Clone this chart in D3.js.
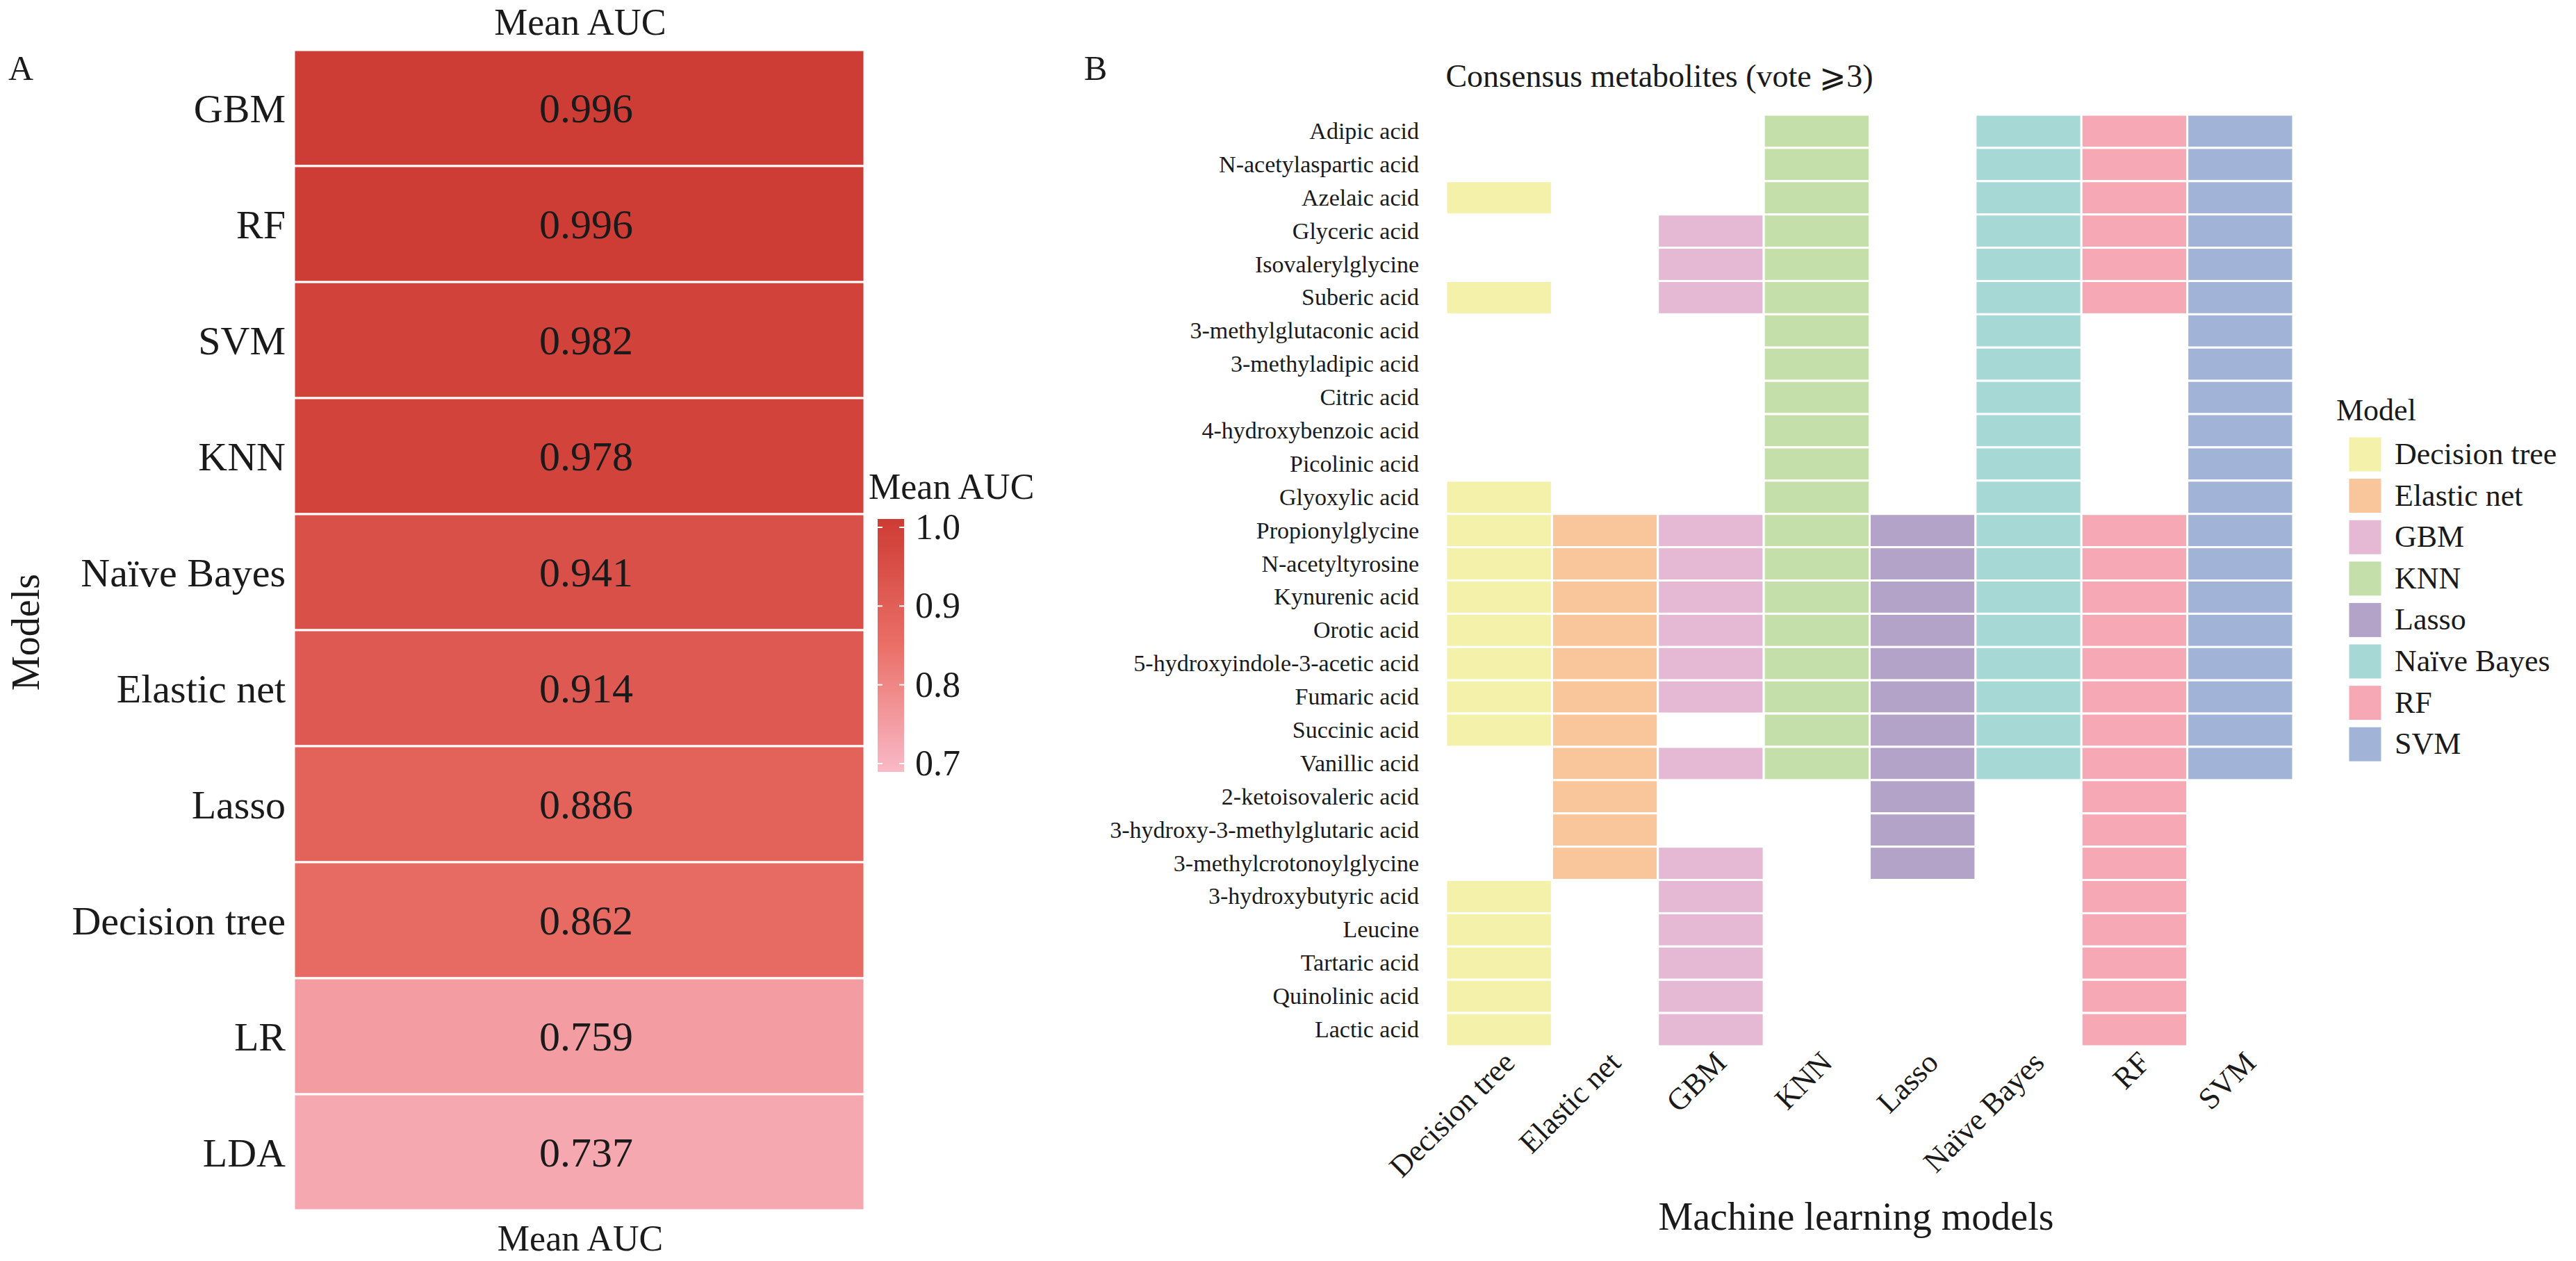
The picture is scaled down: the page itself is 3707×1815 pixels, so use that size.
<!DOCTYPE html>
<html><head><meta charset="utf-8">
<script src="https://cdn.jsdelivr.net/npm/d3@7"></script>
<style>body{margin:0;background:#fff}text{font-family:"Liberation Serif","DejaVu Serif",serif;fill:#1a1a1a}</style>
</head><body>
<script>
var models = ["GBM","RF","SVM","KNN","Naïve Bayes","Elastic net","Lasso","Decision tree","LR","LDA"];
var aucs = [0.996,0.996,0.982,0.978,0.941,0.914,0.886,0.862,0.759,0.737];
var aucTicks = [0.7,0.8,0.9,1.0];

var cols = ["Decision tree","Elastic net","GBM","KNN","Lasso","Naïve Bayes","RF","SVM"];
var colColors = ["#f4f2aa","#f9c59a","#e5b9d4","#c5dfaa","#b3a3c9","#a6d8d6","#f7a8b5","#a1b3d7"];
var metabolites = ["Adipic acid","N-acetylaspartic acid","Azelaic acid","Glyceric acid","Isovalerylglycine","Suberic acid","3-methylglutaconic acid","3-methyladipic acid","Citric acid","4-hydroxybenzoic acid","Picolinic acid","Glyoxylic acid","Propionylglycine","N-acetyltyrosine","Kynurenic acid","Orotic acid","5-hydroxyindole-3-acetic acid","Fumaric acid","Succinic acid","Vanillic acid","2-ketoisovaleric acid","3-hydroxy-3-methylglutaric acid","3-methylcrotonoylglycine","3-hydroxybutyric acid","Leucine","Tartaric acid","Quinolinic acid","Lactic acid"];
// selected models per metabolite (indices into cols)
var votes = [
 [3,5,6,7],[3,5,6,7],[0,3,5,6,7],[2,3,5,6,7],[2,3,5,6,7],[0,2,3,5,6,7],
 [3,5,7],[3,5,7],[3,5,7],[3,5,7],[3,5,7],[0,3,5,7],
 [0,1,2,3,4,5,6,7],[0,1,2,3,4,5,6,7],[0,1,2,3,4,5,6,7],[0,1,2,3,4,5,6,7],[0,1,2,3,4,5,6,7],[0,1,2,3,4,5,6,7],
 [0,1,3,4,5,6,7],[1,2,3,4,5,6,7],[1,4,6],[1,4,6],[1,2,4,6],
 [0,2,6],[0,2,6],[0,2,6],[0,2,6],[0,2,6]];

var W = 3707, H = 1815;
var svg = d3.select("body").append("svg").attr("width",W).attr("height",H);

// ---- panel A
var col = d3.scaleLinear().domain([0.7,0.85,1.0]).range(["#f9bac7","#ea6f67","#cd3c34"]).clamp(true);
var yA = d3.scaleBand().domain(models).range([72,1742]);
var xA0 = 423, xA1 = 1244;
var gA = svg.append("g");
gA.selectAll("rect").data(models).enter().append("rect")
	.attr("x",xA0).attr("width",xA1-xA0)
	.attr("y",function(d){return yA(d)}).attr("height",yA.bandwidth())
	.attr("fill",function(d,i){return col(aucs[i])})
	.attr("stroke","#fff").attr("stroke-width",3);
gA.selectAll(".val").data(models).enter().append("text")
	.attr("x",(xA0+xA1)/2+10).attr("y",function(d){return yA(d)+yA.bandwidth()/2+20})
	.attr("text-anchor","middle").attr("font-size",60)
	.text(function(d,i){return aucs[i].toFixed(3)});
gA.selectAll(".lab").data(models).enter().append("text")
	.attr("x",xA0-12).attr("y",function(d){return yA(d)+yA.bandwidth()/2+20})
	.attr("text-anchor","end").attr("font-size",58).text(function(d){return d});
svg.append("text").attr("x",835).attr("y",50).attr("text-anchor","middle").attr("font-size",54).text("Mean AUC");
svg.append("text").attr("x",835).attr("y",1800).attr("text-anchor","middle").attr("font-size",52).text("Mean AUC");
svg.append("text").attr("x",12).attr("y",115).attr("font-size",50).text("A");
svg.append("text").attr("transform","translate(56,910) rotate(-90)").attr("text-anchor","middle").attr("font-size",56).text("Models");

// colour bar
var cb = d3.scaleLinear().domain([0.7,1.0]).range([1099,759]);
var defs = svg.append("defs");
var grad = defs.append("linearGradient").attr("id","g").attr("x1",0).attr("x2",0).attr("y1",1).attr("y2",0);
d3.range(0,1.001,0.1).forEach(function(t){grad.append("stop").attr("offset",t).attr("stop-color",col(0.7+0.3*t))});
svg.append("rect").attr("x",1263).attr("y",cb(1.0)-12).attr("width",38).attr("height",cb(0.7)-cb(1.0)+24).attr("fill","url(#g)");
svg.append("g").attr("transform","translate(1301,0)")
	.call(d3.axisRight(cb).tickValues(aucTicks).tickFormat(d3.format(".1f")).tickSize(0).tickPadding(16))
	.call(function(g){g.select(".domain").remove();g.selectAll("text").attr("font-size",52).attr("font-family","Liberation Serif").attr("fill","#1a1a1a")});
aucTicks.forEach(function(v){
	svg.append("line").attr("x1",1263).attr("x2",1270).attr("y1",cb(v)).attr("y2",cb(v)).attr("stroke","#fff").attr("stroke-width",2);
	svg.append("line").attr("x1",1294).attr("x2",1301).attr("y1",cb(v)).attr("y2",cb(v)).attr("stroke","#fff").attr("stroke-width",2);
});
svg.append("text").attr("x",1250).attr("y",718).attr("font-size",52).text("Mean AUC");

// ---- panel B
var xB = d3.scaleBand().domain(cols).range([2081,3300]);
var yB = d3.scaleBand().domain(metabolites).range([165,1506]);
var cells = [];
votes.forEach(function(v,i){v.forEach(function(c){cells.push({m:metabolites[i],c:c})})});
svg.append("g").selectAll("rect").data(cells).enter().append("rect")
	.attr("x",function(d){return xB(cols[d.c])}).attr("width",xB.bandwidth())
	.attr("y",function(d){return yB(d.m)}).attr("height",yB.bandwidth())
	.attr("fill",function(d){return colColors[d.c]}).attr("stroke","#fff").attr("stroke-width",3);
svg.append("g").selectAll("text").data(metabolites).enter().append("text")
	.attr("x",2042).attr("y",function(d){return yB(d)+yB.bandwidth()/2+11})
	.attr("text-anchor","end").attr("font-size",34).text(function(d){return d});
svg.append("g").selectAll("text").data(cols).enter().append("text")
	.attr("transform",function(d){return "translate("+(xB(d)+xB.bandwidth()/2+25)+",1532) rotate(-45)"})
	.attr("text-anchor","end").attr("font-size",44).text(function(d){return d});
svg.append("text").attr("x",2671).attr("y",1770).attr("text-anchor","middle").attr("font-size",56).text("Machine learning models");
svg.append("text").attr("x",2388).attr("y",125).attr("text-anchor","middle").attr("font-size",46).text("Consensus metabolites (vote ⩾3)");
svg.append("text").attr("x",1560).attr("y",115).attr("font-size",50).text("B");

// legend
svg.append("text").attr("x",3362).attr("y",605).attr("font-size",44).text("Model");
var lg = svg.append("g").selectAll("g").data(cols).enter().append("g")
	.attr("transform",function(d,i){return "translate(3379,"+(628+i*59.6)+")"});
lg.append("rect").attr("width",49).attr("height",52).attr("fill",function(d,i){return colColors[i]}).attr("stroke","#fff").attr("stroke-width",3);
lg.append("text").attr("x",67).attr("y",40).attr("font-size",44).text(function(d){return d});
</script>
</body></html>
